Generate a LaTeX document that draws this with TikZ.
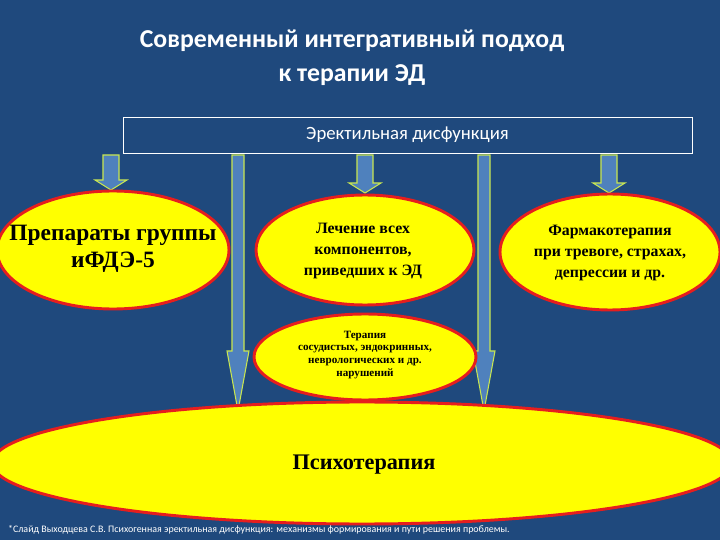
\documentclass[tikz,border=0pt]{standalone}
\usepackage{fontspec}
\setmainfont{Liberation Serif}
\newfontfamily\carfont{Carlito}
\usetikzlibrary{shapes.geometric}
\definecolor{bg}{RGB}{31,73,125}
\definecolor{arrfill}{RGB}{79,129,189}
\definecolor{arredge}{RGB}{200,230,80}
\definecolor{ell}{RGB}{255,255,0}
\definecolor{ellb}{RGB}{230,30,30}
\newcommand\blockarrow[6]{% x, ytop, ybottom, half shaft, half head, head length
  \filldraw[arrowst] (#1-#4,#2) -- (#1+#4,#2) -- (#1+#4,#3-#6) -- (#1+#5,#3-#6) -- (#1,#3) -- (#1-#5,#3-#6) -- (#1-#4,#3-#6) -- cycle;}
\begin{document}
\begin{tikzpicture}[x=0.03cm,y=-0.03cm,
  arrowst/.style={fill=arrfill,draw=arredge,line width=0.9pt},
  ovalshape/.style={fill=ell,draw=ellb,line width=2.5pt},
  oval/.style={align=center,font=\bfseries,inner sep=0pt},
  wtext/.style={text=white,font=\carfont}]
\fill[bg] (0,0) rectangle (720,540);
\useasboundingbox (0,0) rectangle (720,540);
\node[wtext,font=\carfont\bfseries\fontsize{22}{29}\selectfont,align=center] (title) at (352,58) {Современный интегративный подход\\к терапии ЭД};
\node[draw=white,line width=0.7pt,minimum width=569*0.03cm,minimum height=36*0.03cm,wtext,font=\carfont\fontsize{16}{19}\selectfont] (ed) at (407.5,135) {Эректильная дисфункция};
\blockarrow{111}{155}{190}{8}{16}{10}
\blockarrow{365}{155}{193}{8}{16}{10}
\blockarrow{609}{155}{193}{8}{16}{10}
\blockarrow{238}{155}{411}{6}{11}{60}
\blockarrow{484}{155}{411}{6}{11}{60}
\draw[ovalshape] (113,250) ellipse [x radius=116, y radius=59];
\draw[ovalshape] (365,250) ellipse [x radius=109, y radius=55];
\draw[ovalshape] (610,252) ellipse [x radius=110, y radius=58];
\draw[ovalshape] (365,357) ellipse [x radius=111, y radius=43];
\draw[ovalshape] (362,463) ellipse [x radius=370, y radius=61];
\node[oval,font=\bfseries\fontsize{20}{23}\selectfont] (e1) at (113,249) {Препараты группы\\иФДЭ-5};
\node[oval,font=\bfseries\fontsize{13.5}{18}\selectfont] (e2) at (363,251) {Лечение всех\\компонентов,\\приведших к ЭД};
\node[oval,font=\bfseries\fontsize{13.5}{18}\selectfont] (e3) at (610,253) {Фармакотерапия\\при тревоге, страхах,\\депрессии и др.};
\node[oval,font=\bfseries\fontsize{9.5}{11}\selectfont] (e4) at (365,355) {Терапия\\сосудистых, эндокринных,\\неврологических и др.\\нарушений};
\node[oval,font=\bfseries\fontsize{19}{22}\selectfont] (e5) at (364,465) {Психотерапия};
\node[wtext,anchor=west,font=\carfont\fontsize{8.5}{10}\selectfont] (foot) at (4,530) {*Слайд Выходцева С.В. Психогенная эректильная дисфункция: механизмы формирования и пути решения проблемы.};
\end{tikzpicture}
\end{document}
